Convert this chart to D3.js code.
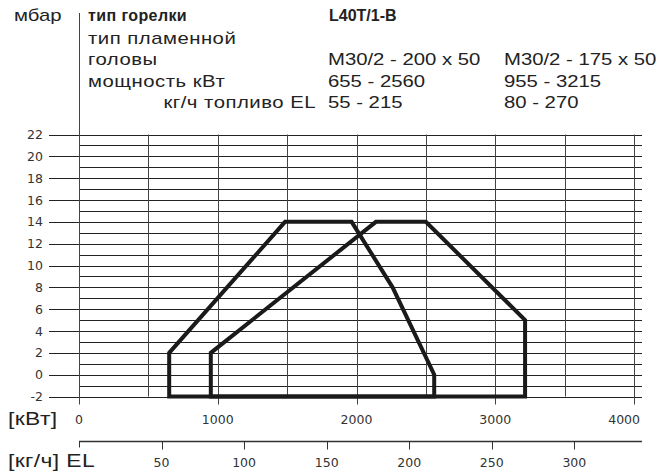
<!DOCTYPE html>
<html><head><meta charset="utf-8">
<script src="https://cdn.jsdelivr.net/npm/d3@7"></script>
<style>
body{margin:0;background:#fff;}
svg{display:block;}
text{font-family:"Liberation Sans",Arial,sans-serif;fill:#222;}
.tick{font-family:"DejaVu Sans",sans-serif;font-size:12.5px;fill:#333;}
</style></head>
<body>
<svg id="c" width="672" height="476"></svg>
<script>
// ---- data ----
const yTicks = [22,20,18,16,14,12,10,8,6,4,2,0,-2];
const kwTicks = [0,1000,2000,3000,4000];
const kghTicks = [50,100,150,200,250,300];
const headerRows = ["тип пламенной","головы","мощность кВт","кг/ч топливо EL"];
const burnerModel = "L40T/1-B";
const headCol1 = ["M30/2 - 200 x 50","655 - 2560","55 - 215"];
const headCol2 = ["M30/2 - 175 x 50","955 - 3215","80 - 270"];
// working field M30/2 - 200 x 50 : [kW, mbar]
const field1 = [[650,-2],[650,2],[1485,14],[1965,14],[2260,8],[2530,0.8],[2560,0],[2560,-2]];
// working field M30/2 - 175 x 50 : [kW, mbar]
const field2 = [[950,-2],[950,2],[2140,14],[2500,14],[3215,5],[3215,-2]];
const kwPerKgh = 11.9;

// ---- layout ----
const svg = d3.select("#c");
const x = d3.scaleLinear().domain([0,4000]).range([79,634]);
const y = d3.scaleLinear().domain([-2,22]).range([396.5,134.5]);
const gridRight = 642, majorLeft = 49, tickDown = 8;
const SX = 1.27; // horizontal stretch of the header lettering

function wide(sel, tx, ty, fs){
  return sel.attr("transform",`translate(${tx},${ty}) scale(${SX},1)`)
    .attr("font-size",fs);
}

// horizontal grid
const hLines = d3.range(-2,23,1);
svg.append("g").selectAll("line").data(hLines).join("line")
  .attr("x1",d=> d%2===0 ? majorLeft : x(0))
  .attr("x2",gridRight)
  .attr("y1",d=>Math.round(y(d))+0.5).attr("y2",d=>Math.round(y(d))+0.5)
  .attr("stroke","#222").attr("stroke-width",1);

// vertical grid
const vLines = d3.range(0,4001,500);
svg.append("g").selectAll("line").data(vLines).join("line")
  .attr("x1",d=>Math.round(x(d))+0.5).attr("x2",d=>Math.round(x(d))+0.5)
  .attr("y1",d=> d===0 ? 13 : y(22))
  .attr("y2",d=> d%1000===0 ? y(-2)+tickDown : y(-2))
  .attr("stroke","#444").attr("stroke-width",1);

// y tick labels
svg.append("g").selectAll("text").data(yTicks).join("text")
  .attr("class","tick").attr("x",43).attr("y",d=>y(d)+4.5)
  .attr("text-anchor","end").text(d=>d);

// kW tick labels
svg.append("g").selectAll("text").data(kwTicks).join("text")
  .attr("class","tick").attr("x",d=> d===4000 ? x(d)+6 : x(d)).attr("y",424)
  .attr("text-anchor",d=> d===4000 ? "end" : "middle").text(d=>d);

// kg/h axis
const xk = d3.scaleLinear().domain([0,300]).range([x(0), x(300*kwPerKgh)]);
const kgY = 441.5;
svg.append("line").attr("x1",x(0)).attr("x2",gridRight).attr("y1",kgY).attr("y2",kgY)
  .attr("stroke","#333").attr("stroke-width",1.3);
svg.append("line").attr("x1",Math.round(xk(0))+0.5).attr("x2",Math.round(xk(0))+0.5)
  .attr("y1",kgY).attr("y2",kgY+6).attr("stroke","#333");
svg.append("g").selectAll("line").data(kghTicks).join("line")
  .attr("x1",d=>Math.round(xk(d))+0.5).attr("x2",d=>Math.round(xk(d))+0.5)
  .attr("y1",kgY).attr("y2",kgY+8).attr("stroke","#333");
svg.append("g").selectAll("text").data(kghTicks).join("text")
  .attr("class","tick").attr("x",d=>xk(d)).attr("y",467)
  .attr("text-anchor","middle").text(d=>d);

// axis titles
wide(svg.append("text"),8,425,18).attr("letter-spacing",0.3).text("[кВт]");
wide(svg.append("text"),8,467,18).attr("letter-spacing",0.3).text("[кг/ч] EL");

// fields
const line = d3.line().x(d=>x(d[0])).y(d=>y(d[1]));
svg.append("g").selectAll("path").data([field1,field2]).join("path")
  .attr("d",d=>line(d)+"Z").attr("fill","none")
  .attr("stroke","#1a1a1a").attr("stroke-width",4).attr("stroke-linejoin","miter");

// header
const rowY = [21,43.5,65,86.5,108];
wide(svg.append("text"),14,rowY[0],16).text("мбар");
svg.append("text").attr("x",88).attr("y",rowY[0]).attr("font-size",16).attr("font-weight","bold").attr("letter-spacing",0.4).text("тип горелки");
svg.append("text").attr("x",329).attr("y",rowY[0]).attr("font-size",16).attr("font-weight","bold").text(burnerModel);
svg.append("g").selectAll("text").data(headerRows).join("text")
  .each(function(d,i){ wide(d3.select(this), i===3 ? 316 : 88, rowY[i+1], 16); })
  .attr("text-anchor",(d,i)=> i===3 ? "end" : "start")
  .attr("letter-spacing",0.4)
  .text(d=>d);
svg.append("g").selectAll("text").data(headCol1).join("text")
  .each(function(d,i){ wide(d3.select(this), 328, rowY[i+2], 16); })
  .text(d=>d);
svg.append("g").selectAll("text").data(headCol2).join("text")
  .each(function(d,i){ wide(d3.select(this), 504, rowY[i+2], 16); })
  .text(d=>d);
</script>
</body></html>
